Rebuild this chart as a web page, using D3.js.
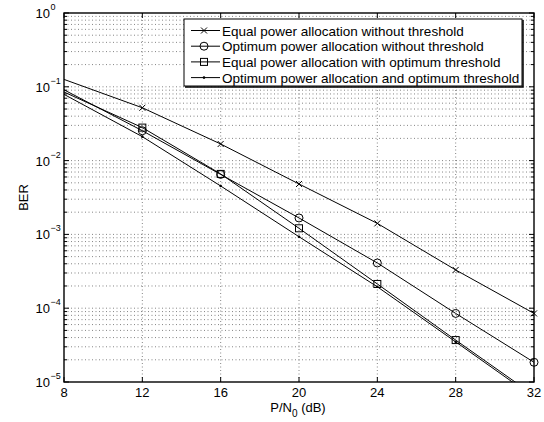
<!DOCTYPE html>
<html><head><meta charset="utf-8">
<script src="https://cdn.jsdelivr.net/npm/d3@7"></script>
<style>body{margin:0;background:#fff}svg{display:block}text{font-family:"Liberation Sans",Arial,sans-serif;fill:#000}</style>
</head><body>
<script>
const snr = [8, 12, 16, 20, 24, 28, 32];
const berEqualNoThr = [0.126, 0.052, 0.0168, 0.00482, 0.00141, 0.00033, 0.000085];
const berOptNoThr = [0.091, 0.0254, 0.0065, 0.00167, 0.00041, 0.000085, 0.0000185];
const berEqualOptThr = [0.085, 0.028, 0.0066, 0.00121, 0.000213, 0.000037, 0.0000066];
const berOptOptThr = [0.079, 0.0211, 0.00453, 0.00093, 0.000195, 0.000035, 0.0000062];
const seriesNames = ["Equal power allocation without threshold","Optimum power allocation without threshold","Equal power allocation with optimum threshold","Optimum power allocation and optimum threshold"];
const seriesMarkers = ["x","o","s","dot"];
const markerSnr = [12, 16, 20, 24, 28, 32];
const xTicks = [8, 12, 16, 20, 24, 28, 32];
const yExponents = [0, -1, -2, -3, -4, -5];

const W = 544, H = 422;
const L = 64, R = 534, T = 13, B = 382;
const svg = d3.select("body").append("svg").attr("width", W).attr("height", H);
const x = d3.scaleLinear().domain([8, 32]).range([L, R]);
const y = d3.scaleLog().domain([1e-5, 1]).range([B, T]);

// grid
const gridG = svg.append("g");
const minorVals = [];
for (let e = -5; e < 0; e++) for (let k = 1; k <= 9; k++) minorVals.push(k * Math.pow(10, e));
minorVals.push(1);
gridG.selectAll("line.h").data(minorVals.filter(v => v > 1e-5 && v < 1)).enter().append("line")
  .attr("x1", L).attr("x2", R).attr("y1", d => y(d)).attr("y2", d => y(d))
  .attr("stroke", "#666").attr("stroke-width", 0.8).attr("stroke-dasharray", "1,2.5");
gridG.selectAll("line.v").data(xTicks.slice(1, -1)).enter().append("line")
  .attr("x1", d => x(d)).attr("x2", d => x(d)).attr("y1", T).attr("y2", B)
  .attr("stroke", "#666").attr("stroke-width", 0.8).attr("stroke-dasharray", "1,2.5");

// ticks
const tickG = svg.append("g").attr("stroke", "#000").attr("stroke-width", 1);
xTicks.forEach(v => {
  tickG.append("line").attr("x1", x(v)).attr("x2", x(v)).attr("y1", B).attr("y2", B - 5);
  tickG.append("line").attr("x1", x(v)).attr("x2", x(v)).attr("y1", T).attr("y2", T + 5);
});
minorVals.forEach(v => {
  const major = Math.abs(Math.log10(v) - Math.round(Math.log10(v))) < 1e-9;
  const len = major ? 5 : 3;
  tickG.append("line").attr("x1", L).attr("x2", L + len).attr("y1", y(v)).attr("y2", y(v));
  tickG.append("line").attr("x1", R).attr("x2", R - len).attr("y1", y(v)).attr("y2", y(v));
});

// lines
svg.append("clipPath").attr("id", "c").append("rect").attr("x", L).attr("y", T).attr("width", R - L).attr("height", B - T);
const allSeries = [berEqualNoThr, berOptNoThr, berEqualOptThr, berOptOptThr];
const line = d3.line().x((d, i) => x(snr[i])).y(d => y(d));
const plotG = svg.append("g").attr("clip-path", "url(#c)");
function marker(g, type, cx, cy) {
  if (type === "x") {
    g.append("path").attr("d", `M${cx-3},${cy-3}L${cx+3},${cy+3}M${cx-3},${cy+3}L${cx+3},${cy-3}`).attr("stroke", "#000").attr("stroke-width", 1);
  } else if (type === "o") {
    g.append("circle").attr("cx", cx).attr("cy", cy).attr("r", 4).attr("fill", "none").attr("stroke", "#000").attr("stroke-width", 1);
  } else if (type === "s") {
    g.append("rect").attr("x", cx - 3.5).attr("y", cy - 3.5).attr("width", 7).attr("height", 7).attr("fill", "none").attr("stroke", "#000").attr("stroke-width", 1);
  } else {
    g.append("circle").attr("cx", cx).attr("cy", cy).attr("r", 1.3).attr("fill", "#000");
  }
}
allSeries.forEach(s => {
  plotG.append("path").datum(s).attr("d", line).attr("fill", "none").attr("stroke", "#000").attr("stroke-width", 1);
});
const markG = svg.append("g");
allSeries.forEach((s, si) => {
  s.forEach((v, i) => { if (v >= 1e-5 && markerSnr.includes(snr[i])) marker(markG, seriesMarkers[si], x(snr[i]), y(v)); });
});

// frame
svg.append("rect").attr("x", L).attr("y", T).attr("width", R - L).attr("height", B - T).attr("fill", "none").attr("stroke", "#000").attr("stroke-width", 1.4);

// tick labels
svg.selectAll("text.xt").data(xTicks).enter().append("text")
  .attr("x", d => x(d)).attr("y", B + 15).attr("text-anchor", "middle").attr("font-size", 13).text(d => d);
yExponents.forEach(e => {
  svg.append("text").attr("x", 50).attr("y", y(Math.pow(10, e)) + 5).attr("text-anchor", "end").attr("font-size", 13).text("10");
  svg.append("text").attr("x", 50.5).attr("y", y(Math.pow(10, e)) - 3).attr("font-size", 9).text(e === 0 ? "0" : "\u2212" + Math.abs(e));
});

// axis labels
svg.append("text").attr("transform", `translate(28,${(T + B) / 2}) rotate(-90)`).attr("text-anchor", "middle").attr("font-size", 13).text("BER");
const xl = svg.append("text").attr("x", 298).attr("y", B + 30).attr("text-anchor", "middle").attr("font-size", 13);
xl.append("tspan").text("P/N");
xl.append("tspan").attr("dy", 5).attr("font-size", 10).text("0");
xl.append("tspan").attr("dy", -5).text(" (dB)");

// legend
const lg = svg.append("g");
lg.append("rect").attr("x", 184).attr("y", 19).attr("width", 338).attr("height", 67).attr("fill", "#fff").attr("stroke", "#000").attr("stroke-width", 1);
lg.append("path").attr("d", "M185,87L523,87L523,20").attr("fill", "none").attr("stroke", "#000").attr("stroke-width", 1.5);
seriesNames.forEach((n, i) => {
  const ly = 30.5 + i * 15.7;
  lg.append("line").attr("x1", 191).attr("x2", 220).attr("y1", ly).attr("y2", ly).attr("stroke", "#000").attr("stroke-width", 1);
  marker(lg, seriesMarkers[i], 204, ly);
  lg.append("text").attr("x", 222).attr("y", ly + 5).attr("font-size", 13.5).text(n);
});
</script>
</body></html>
